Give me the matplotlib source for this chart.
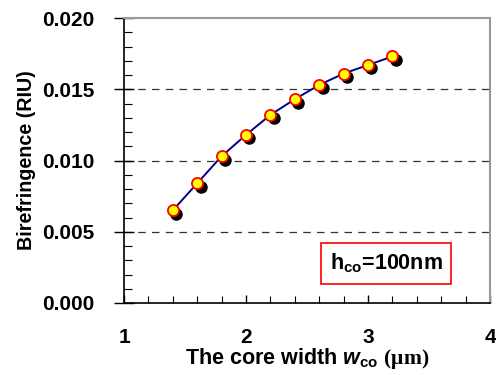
import matplotlib.pyplot as plt
import matplotlib.transforms as mtransforms
from matplotlib.ticker import MultipleLocator

# core width (um) and birefringence (RIU)
width = [1.4, 1.6, 1.8, 2.0, 2.2, 2.4, 2.6, 2.8, 3.0, 3.2]
biref = [0.0065, 0.0084, 0.0103, 0.0118, 0.0132, 0.0143, 0.0153, 0.0161, 0.0167, 0.0173]
xticks = [1, 2, 3, 4]
yticks = [0.000, 0.005, 0.010, 0.015, 0.020]

plt.rcParams['font.family'] = ['Liberation Sans', 'DejaVu Sans']
plt.rcParams['font.weight'] = 'bold'
plt.rcParams['mathtext.fontset'] = 'custom'
plt.rcParams['mathtext.bf'] = 'Liberation Sans:bold'
plt.rcParams['mathtext.bfit'] = 'Liberation Sans:bold:italic'
plt.rcParams['mathtext.rm'] = 'Liberation Serif:bold'


def main():
    fig = plt.figure(figsize=(4.96, 3.75), dpi=100)
    ax = fig.add_axes([124/496, 1 - 303/375, 366/496, 285/375])

    # dashed grid lines
    for yv in yticks[1:-1]:
        ax.axhline(yv, color='#333333', lw=0.9, ls=(0, (6, 5)), zorder=1)

    ax.plot(width, biref, color='#000080', lw=1.4, zorder=2)
    # black shadow under each marker
    shadow = mtransforms.offset_copy(ax.transData, fig=fig, x=2.4, y=-2.4, units='points')
    ax.plot(width, biref, 'o', ms=8, color='black', transform=shadow, zorder=3)
    ax.plot(width, biref, 'o', ms=8, mfc='yellow', mec='red', mew=1.3, zorder=4)

    ax.set_xlim(1, 4)
    ax.set_ylim(0, 0.020)
    ax.set_xticks(xticks)
    ax.set_yticks(yticks)
    ax.set_xticklabels([str(v) for v in xticks], fontsize=15, fontweight='bold')
    ax.set_yticklabels(['%.3f' % v for v in yticks], fontsize=15, fontweight='bold')
    ax.xaxis.set_minor_locator(MultipleLocator(0.2))
    ax.yaxis.set_minor_locator(MultipleLocator(0.001))
    ax.tick_params(axis='x', which='major', direction='in', length=6, width=1, pad=18)
    ax.tick_params(axis='x', which='minor', direction='in', length=5, width=0.8)
    ax.tick_params(axis='y', which='major', direction='inout', length=14, width=1, pad=14)
    ax.tick_params(axis='y', which='minor', direction='in', length=6, width=0.8)

    for spine in ['top', 'right']:
        ax.spines[spine].set_color('#999999')
        ax.spines[spine].set_linewidth(1.5)
    for spine in ['bottom', 'left']:
        ax.spines[spine].set_linewidth(1.2)

    ax.set_ylabel('Birefringence (RIU)', fontsize=14.2, fontweight='bold', labelpad=5)
    ax.set_xlabel(r'The core width $\boldsymbol{w}_{\mathbf{co}}$ $\mathrm{(μm)}$', fontsize=15.5,
                  fontweight='bold', labelpad=-1)

    ax.text(0.716, 0.14, r'h$_{\mathbf{co}}$=100nm', transform=ax.transAxes, fontsize=15.5,
            fontweight='bold', ha='center', va='center',
            bbox=dict(boxstyle='square,pad=0.4', fc='white', ec='red', lw=1.2))

    fig.savefig('out.png', dpi=100)


if __name__ == "__main__":
    main()
